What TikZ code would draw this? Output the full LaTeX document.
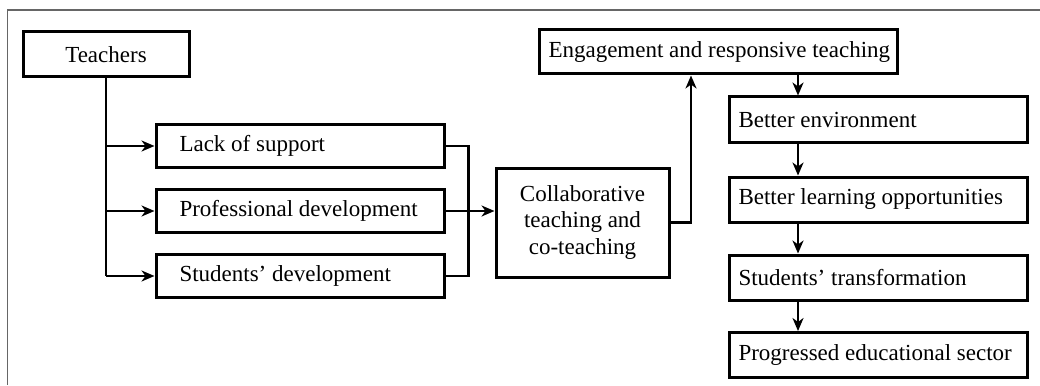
\documentclass[tikz,border=0pt]{standalone}
\usepackage{fontspec}
\setmainfont{Liberation Serif}
\usetikzlibrary{arrows.meta,calc}
\newcommand\padlab[3]{\hbox to #2{\hskip #1\relax #3\hfil}}
\tikzset{
  box/.style={draw=black, line width=3pt, rectangle, inner sep=0pt,
    font=\fontsize{23}{26}\selectfont},
  lbox/.style={box, minimum width=288, minimum height=43},
  rbox/.style={box, minimum width=298, minimum height=45},
  conn/.style={draw=black, line width=2.6pt},
  arr/.style={conn, -{Stealth[length=13pt,width=11pt,inset=4pt]}},
  frame/.style={draw=black!60, line width=1.5pt}
}
\begin{document}
\begin{tikzpicture}[x=1pt,y=-1pt]
\useasboundingbox (0,0) rectangle (1040,385);
% outer frame
\coordinate (fl) at (7.5,385);
\coordinate (fc) at (7.5,10);
\coordinate (fr) at (1040,10);
\draw[frame] (fl) -- (fc) -- (fr);

% nodes
\node[box, minimum width=166, minimum height=45] (teach) at (106,54.5) {Teachers};
\node[lbox] (lack) at (300,146) {\padlab{22pt}{285pt}{Lack of support}};
\node[lbox] (prof) at (300,211) {\padlab{22pt}{285pt}{Professional development}};
\node[lbox] (stud) at (300,276) {\padlab{22pt}{285pt}{Students' development}};
\node[box, minimum width=173, minimum height=109, align=center] (collab) at (582.5,222.5)
  {Collaborative\\teaching and\\co-teaching};
\node[box, minimum width=358, minimum height=44] (eng) at (718,52)
  {\padlab{8pt}{355pt}{Engagement and responsive teaching}};
\node[rbox] (env) at (878,119.5) {\padlab{8pt}{295pt}{Better environment}};
\node[rbox] (learn) at (878,199.5) {\padlab{8pt}{295pt}{Better learning opportunities}};
\node[rbox] (trans) at (878,277.5) {\padlab{8pt}{295pt}{Students' transformation}};
\node[rbox] (prog) at (878,355) {\padlab{8pt}{295pt}{Progressed educational sector}};

% connectors from Teachers
\draw[conn] (teach.south) -- (teach.south |- stud.west);
\draw[arr] (teach.south |- lack.west) -- (lack.west);
\draw[arr] (teach.south |- prof.west) -- (prof.west);
\draw[arr] (teach.south |- stud.west) -- (stud.west);

% collector
\draw[conn] (lack.east) -- ++(23,0) |- (stud.east);
\draw[arr] (prof.east) -- (prof.east -| collab.west);

% collab to engagement
\coordinate (up) at ([xshift=-27]eng.south);
\draw[arr] (collab.east) -| (up);

% right chain
\coordinate (cx) at ([xshift=-80]env.north);
\draw[arr] (cx |- eng.south) -- (cx);
\draw[arr] (cx |- env.south) -- (cx |- learn.north);
\draw[arr] (cx |- learn.south) -- (cx |- trans.north);
\draw[arr] (cx |- trans.south) -- (cx |- prog.north);
\end{tikzpicture}
\end{document}
